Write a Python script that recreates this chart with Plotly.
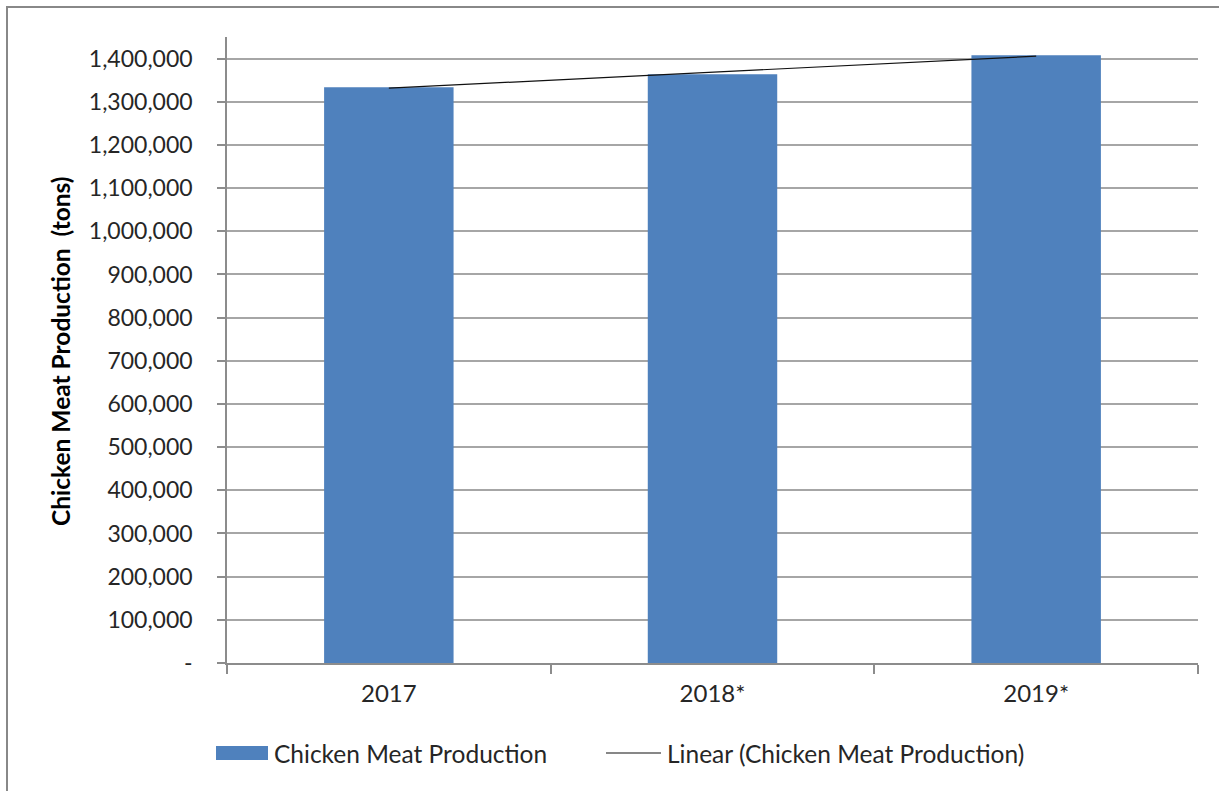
import numpy as np
import plotly.graph_objects as go

categories = ["2017", "2018*", "2019*"]
production = [1333700, 1363800, 1407800]
y_tick_values = [0, 100000, 200000, 300000, 400000, 500000, 600000, 700000,
                 800000, 900000, 1000000, 1100000, 1200000, 1300000, 1400000]
y_tick_labels = ["-"] + [f"{v:,}" for v in y_tick_values[1:]]

series_name = "Chicken Meat Production"
trend_name = "Linear (Chicken Meat Production)"
y_title = "Chicken Meat Production  (tons)"

# linear trendline fitted to the bar values
xi = np.arange(1, len(production) + 1)
slope, intercept = np.polyfit(xi, production, 1)
trend = list(slope * xi + intercept)

FONT = "Lato"
TXT = "#262626"
BLUE = "#4F81BD"

W, H = 1219, 791
L, R, T, B = 227, 21, 37, 128
pw, ph = W - L - R, H - T - B

def px(x):
    return (x - L) / pw

def py(y):
    return (H - B - y) / ph

fig = go.Figure()
fig.add_trace(go.Bar(x=categories, y=production, name=series_name,
                     marker=dict(color=BLUE, line=dict(width=0)),
                     showlegend=False))
fig.add_trace(go.Scatter(x=categories, y=trend, name=trend_name, mode="lines",
                         line=dict(color="#111111", width=1.2),
                         showlegend=False))

shapes = [
    # outer chart border
    dict(type="rect", xref="paper", yref="paper",
         x0=px(7), x1=px(1230), y0=py(800), y1=py(7),
         line=dict(color="#888888", width=2), fillcolor="rgba(0,0,0,0)"),
    # legend: bar swatch
    dict(type="rect", xref="paper", yref="paper",
         x0=px(216), x1=px(268), y0=py(760), y1=py(746),
         line=dict(width=0), fillcolor=BLUE),
    # legend: line swatch
    dict(type="line", xref="paper", yref="paper",
         x0=px(606), x1=px(661), y0=py(753), y1=py(753),
         line=dict(color="#111111", width=1.2)),
]

annotations = [
    dict(text=series_name, xref="paper", yref="paper", x=px(272), y=py(753),
         xanchor="left", yanchor="middle", showarrow=False,
         font=dict(family=FONT, size=24.5, color=TXT)),
    dict(text=trend_name, xref="paper", yref="paper", x=px(665), y=py(753),
         xanchor="left", yanchor="middle", showarrow=False,
         font=dict(family=FONT, size=24.5, color=TXT)),
    dict(text=y_title, xref="paper", yref="paper", x=px(60), y=py(351),
         xanchor="center", yanchor="middle", showarrow=False, textangle=-90,
         font=dict(family=FONT, size=24.5, color="#000000", weight="bold")),
]

fig.update_layout(
    width=W, height=H,
    margin=dict(l=L, r=R, t=T, b=B, pad=0),
    paper_bgcolor="white", plot_bgcolor="white",
    bargap=0.6,
    font=dict(family=FONT, size=23, color=TXT),
    shapes=shapes, annotations=annotations,
    xaxis=dict(
        type="category", showgrid=False, showline=True,
        linecolor="#8c8c8c", linewidth=1.5,
        ticks="outside", tickson="boundaries", ticklen=9, tickwidth=1.5,
        tickcolor="#8c8c8c",
        tickfont=dict(family=FONT, size=24, color=TXT),
        ticklabelstandoff=8,
    ),
    yaxis=dict(
        range=[0, 1450000],
        tickvals=y_tick_values, ticktext=y_tick_labels,
        showgrid=True, gridcolor="#a6a6a6", gridwidth=1.5,
        showline=True, linecolor="#8c8c8c", linewidth=1.5,
        ticks="outside", ticklen=8, tickwidth=1.5, tickcolor="#8c8c8c",
        tickfont=dict(family=FONT, size=23, color=TXT),
        ticklabelstandoff=20,
        zeroline=False,
    ),
)

fig.write_html("out.html", config={"displayModeBar": False},
               post_script="document.body.style.margin='0';")
